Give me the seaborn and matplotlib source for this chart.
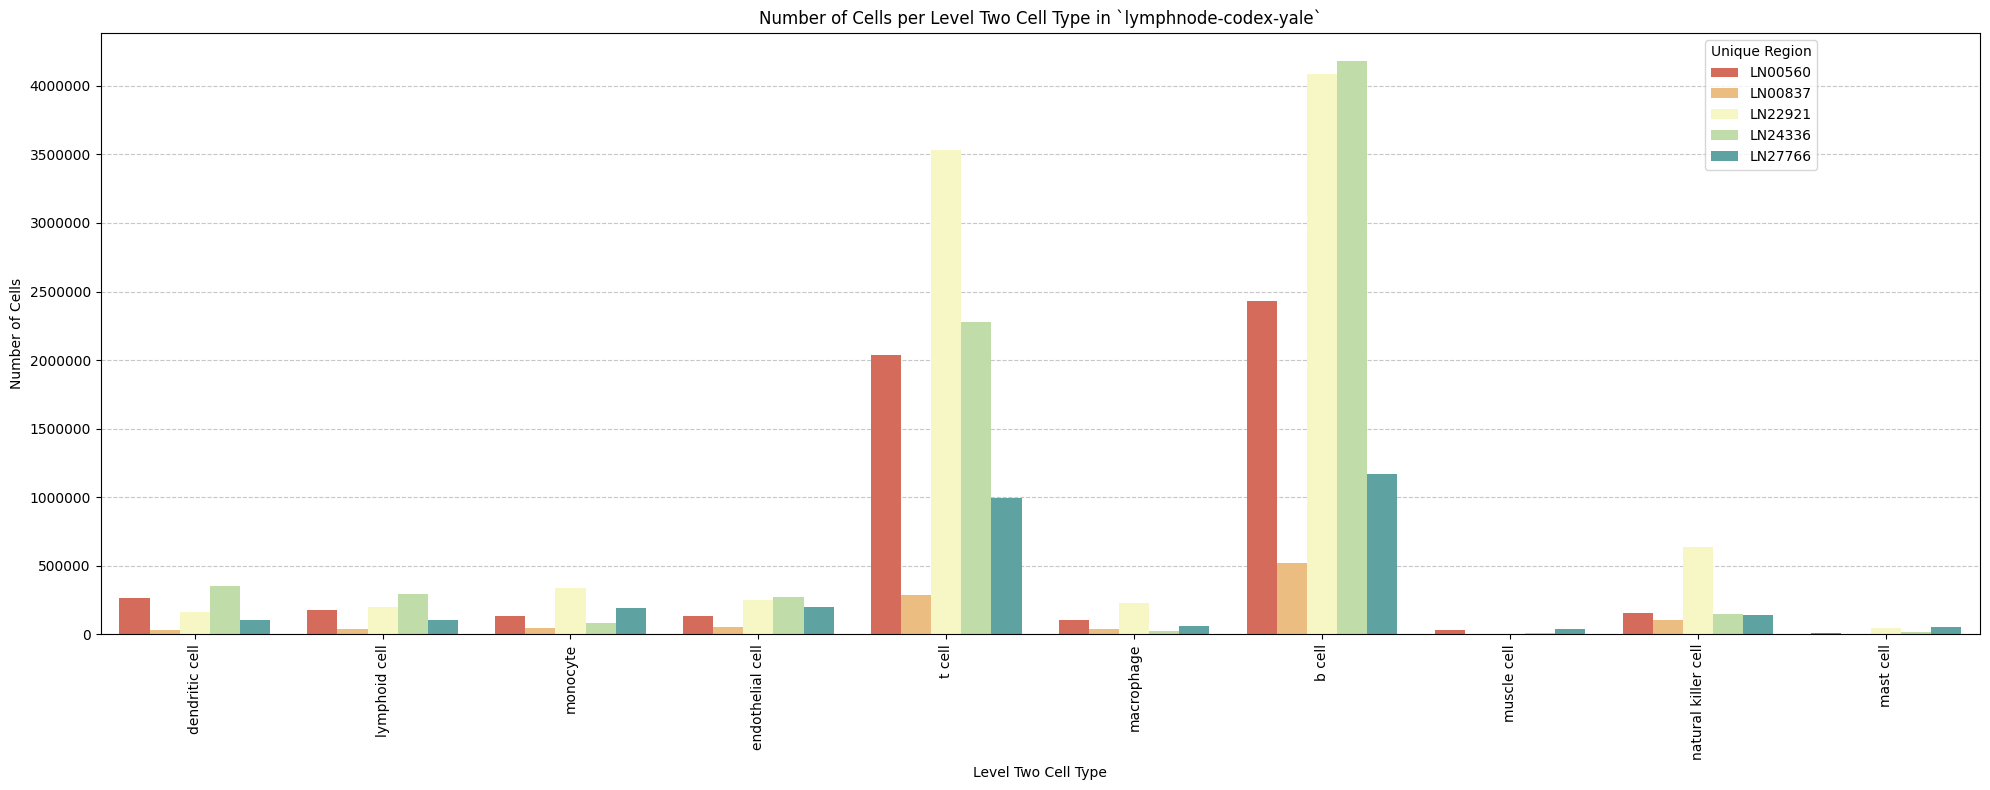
import matplotlib
matplotlib.use("Agg")
import matplotlib.pyplot as plt
import seaborn as sns
import pandas as pd

cell_types = ["dendritic cell", "lymphoid cell", "monocyte", "endothelial cell", "t cell",
              "macrophage", "b cell", "muscle cell", "natural killer cell", "mast cell"]
regions = ["LN00560", "LN00837", "LN22921", "LN24336", "LN27766"]

LN00560 = [266000, 177000, 133000, 133000, 2034000, 103000, 2434000, 30000, 155000, 7000]
LN00837 = [30000, 37000, 44000, 52000, 288000, 37000, 517000, 0, 103000, 0]
LN22921 = [163000, 200000, 340000, 251000, 3531000, 229000, 4090000, 5000, 635000, 44000]
LN24336 = [355000, 296000, 81000, 273000, 2281000, 22000, 4178000, 7000, 148000, 13000]
LN27766 = [103000, 103000, 192000, 200000, 997000, 59000, 1170000, 37000, 140000, 50000]

series = {"LN00560": LN00560, "LN00837": LN00837, "LN22921": LN22921,
          "LN24336": LN24336, "LN27766": LN27766}

rows = []
for reg in regions:
    for ct, v in zip(cell_types, series[reg]):
        rows.append({"Level Two Cell Type": ct, "Unique Region": reg, "Number of Cells": v})
df = pd.DataFrame(rows)

fig, ax = plt.subplots(figsize=(20, 8), dpi=100)
sns.barplot(data=df, x="Level Two Cell Type", y="Number of Cells", hue="Unique Region",
            order=cell_types, hue_order=regions, palette="Spectral", ax=ax)
ax.set_title("Number of Cells per Level Two Cell Type in `lymphnode-codex-yale`")
ax.set_xlabel("Level Two Cell Type")
ax.set_ylabel("Number of Cells")
ax.ticklabel_format(axis="y", style="plain")
plt.setp(ax.get_xticklabels(), rotation=90)
ax.grid(axis="y", linestyle="--", alpha=0.7)
ax.set_axisbelow(True)
ax.legend(title="Unique Region", loc="upper right", bbox_to_anchor=(0.917, 1.0))
fig.tight_layout()
fig.savefig("out.png", dpi=100, bbox_inches="tight")
